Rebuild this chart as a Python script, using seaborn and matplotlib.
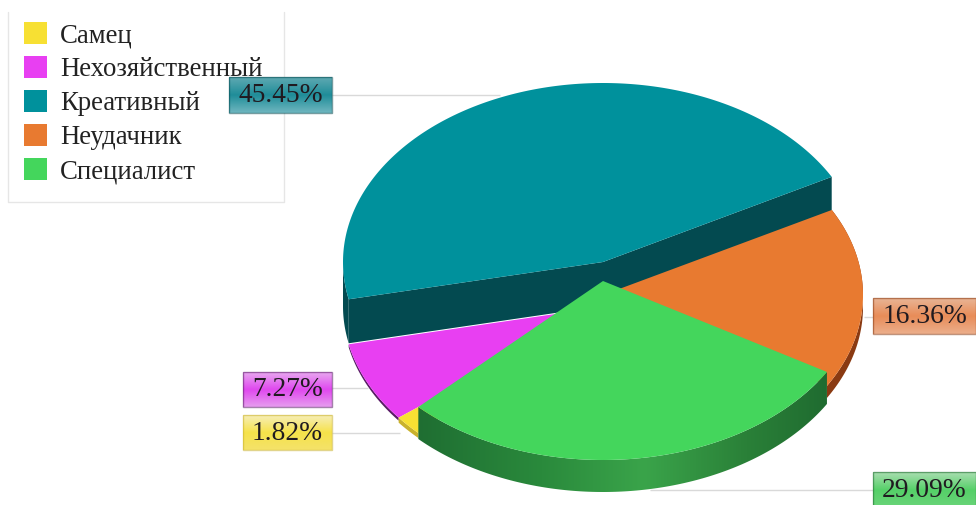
import numpy as np
import matplotlib
matplotlib.use("Agg")
import matplotlib.pyplot as plt
from matplotlib.colors import LinearSegmentedColormap
from matplotlib.patches import Patch, Polygon, Rectangle
import seaborn as sns

# Category shares, in pie order
categories = ["Самец", "Нехозяйственный", "Креативный", "Неудачник", "Специалист"]
shares = [1.82, 7.27, 45.45, 16.36, 29.09]

top_colors = ["#f7e033", "#e83ff2", "#00919c", "#e87a30", "#44d65c"]
wall_colors = ["#c9b22c", "#5a1a66", "#034a50", "#8a3a12", "#1f6b30"]
tag_gradients = [
    ["#f6eeb8", "#f6e24a", "#f4e26a"],
    ["#e8a8f0", "#e048ef", "#e69cee"],
    ["#5fa9b2", "#1f8d99", "#6fb6bf"],
    ["#e9b596", "#e88c58", "#ecaf8c"],
    ["#a9deb0", "#55d068", "#6bd47a"],
]

# Each slice sits at its own offset: centre x, centre y, wall depth
slice_layout = [
    (603, 307, 5),
    (603, 307, 3),
    (603, 262, 44),
    (603, 295, 12),
    (603, 281, 32),
]
tag_boxes = [
    (243, 415, 89, 35),
    (243, 372, 89, 35),
    (229, 77, 103, 36),
    (873, 298, 103, 36),
    (873, 472, 103, 36),
]
leaders = [
    (332, 400, 433),
    (332, 368, 388),
    (332, 500, 95),
    (864, 873, 317),
    (650, 873, 490),
]

RX, RY = 260, 179
START_ANGLE = 28.4

sns.set_theme(style="white")
plt.rcParams["font.family"] = ["Liberation Serif", "DejaVu Serif"]
palette = sns.color_palette(top_colors)

fig, ax = plt.subplots(figsize=(9.76, 5.05), dpi=100)
ax.set_position([0, 0, 1, 1])
ax.axis("off")


def ellipse_points(cx, cy, a0, a1, n=160):
    t = np.radians(np.linspace(a0, a1, n))
    return np.column_stack([cx + RX * np.cos(t), cy - RY * np.sin(t)])


# Angular spans, counter-clockwise from the teal slice's leading edge
order = [2, 1, 0, 4, 3]
spans = {}
angle = START_ANGLE
for i in order:
    spans[i] = (angle, angle + shares[i] * 3.6)
    angle += shares[i] * 3.6


def draw_arc_wall(i, z):
    cx, cy, depth = slice_layout[i]
    a0, a1 = spans[i]
    a0 = max(a0, 180)
    arc = ellipse_points(cx, cy, a0, a1)
    poly = np.vstack([arc, (arc + [0, depth])[::-1]])
    return Polygon(poly, closed=True, fc=wall_colors[i], ec="none", zorder=z)


def draw_top(i, z):
    cx, cy, _ = slice_layout[i]
    a0, a1 = spans[i]
    poly = np.vstack([[cx, cy], ellipse_points(cx, cy, a0, a1)])
    ax.add_patch(Polygon(poly, closed=True, fc=palette[i], ec="none", zorder=z))


# Teal slice: both cut faces plus the small visible arc on the left
cx, cy, depth = slice_layout[2]
a0, a1 = spans[2]
for a in (a0, a1):
    edge = ellipse_points(cx, cy, a, a, n=1)[0]
    face = [[cx, cy], edge, edge + [0, depth], [cx, cy + depth]]
    ax.add_patch(Polygon(face, closed=True, fc=wall_colors[2], ec="none", zorder=2))
ax.add_patch(draw_arc_wall(2, 2))
draw_top(2, 3)

# Slices lying lower than the teal one
for i, z in ((3, 5), (1, 5), (0, 6)):
    ax.add_patch(draw_arc_wall(i, z - 1))
    draw_top(i, z)

# Green slice: the outer wall carries a soft horizontal sheen
wall_patch = draw_arc_wall(4, 7)
wall_patch.set_facecolor("none")
ax.add_patch(wall_patch)
sheen = LinearSegmentedColormap.from_list(
    "sheen", [(0, "#1f6e32"), (0.3, "#2a8a3c"), (0.55, "#3aa44a"), (0.8, "#2a8038"), (1, "#1f6b30")]
)
wall_image = ax.imshow(
    np.linspace(0, 1, 256)[None, :], extent=(418, 830, 520, 360), cmap=sheen,
    aspect="auto", zorder=7,
)
wall_image.set_clip_path(wall_patch)
draw_top(4, 8)

# Value tags with their leader lines
for i, (x0, x1, y) in enumerate(leaders):
    ax.plot([x0, x1], [y, y], color="#d9d9d9", lw=1, zorder=9, solid_capstyle="butt")

for i, (x, y, w, h) in enumerate(tag_boxes):
    cmap = LinearSegmentedColormap.from_list(f"tag{i}", tag_gradients[i])
    img = ax.imshow(
        np.linspace(0, 1, 64)[:, None], extent=(x, x + w, y + h, y), cmap=cmap,
        aspect="auto", zorder=11, origin="upper",
    )
    frame = Rectangle((x, y), w, h, fc="none", ec=wall_colors[i], lw=1, alpha=0.55, zorder=12)
    ax.add_patch(frame)
    img.set_clip_path(frame)
    ax.text(
        x + w / 2, y + h / 2 + 0.5, f"{shares[i]:.2f}%", ha="center", va="center",
        fontsize=19.8, color="#201a20", zorder=13,
    )

# Legend and its open-topped frame
handles = [Patch(fc=c, ec="none") for c in palette]
legend = ax.legend(
    handles, categories, loc="upper left", bbox_to_anchor=(24 / 976, 1 - 22 / 505),
    borderaxespad=0, borderpad=0, frameon=False, fontsize=19.3, labelspacing=0.3,
    handlelength=0.86, handleheight=0.86, handletextpad=0.48, labelcolor="#222222",
)
legend.set_zorder(10)
ax.plot([8, 8, 284, 284], [12, 202, 202, 12], color="#e6e6e6", lw=1, zorder=1)

ax.set_xlim(0, 976)
ax.set_ylim(505, 0)
fig.savefig("out.png", dpi=100, facecolor="white")
